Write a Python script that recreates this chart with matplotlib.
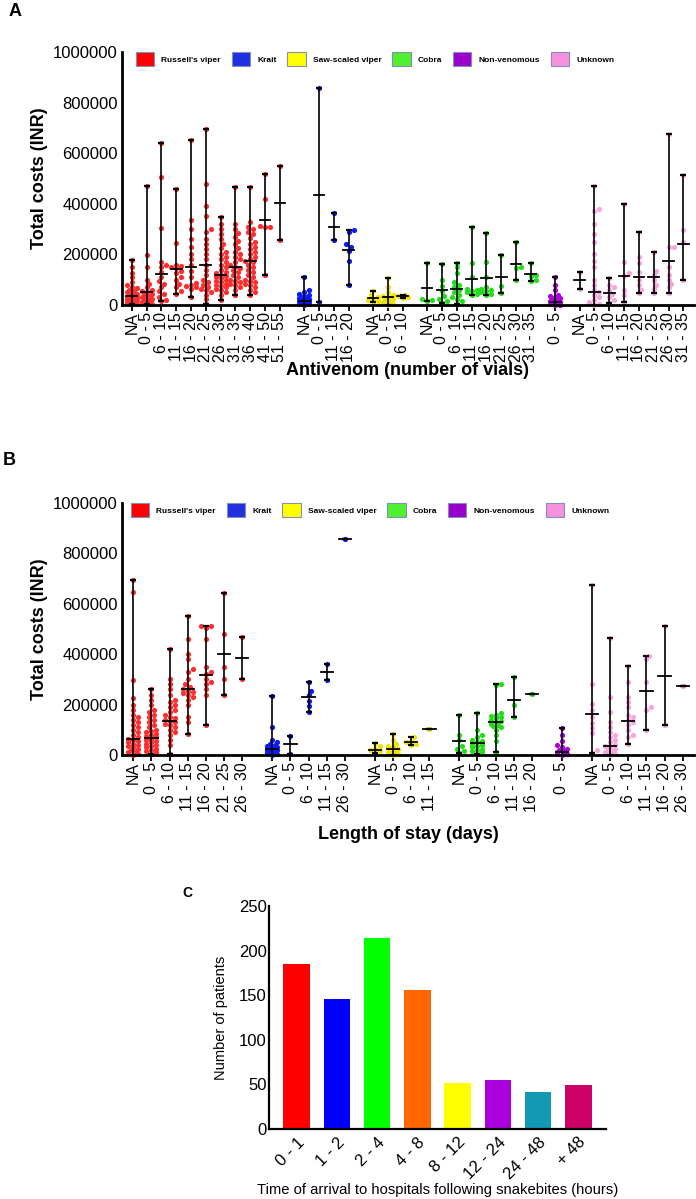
import numpy as np
import matplotlib.pyplot as plt
from matplotlib.patches import Patch

plt.rcParams["font.family"] = ["Liberation Sans", "DejaVu Sans"]

SPECIES = ["Russell's viper", "Krait", "Saw-scaled viper", "Cobra", "Non-venomous", "Unknown"]
LEGEND_COLORS = ["#ff0000", "#2030e0", "#ffff00", "#50f030", "#9900cc", "#f790dd"]
DOT_COLORS = ["#ff2e2e", "#0a1aff", "#f0e200", "#22dd1a", "#b000dd", "#f5a6da"]

# ---- Panel A: total costs (x1000 INR) by antivenom vials ----
a_russell_labels = ["NA", "0 - 5", "6 - 10", "11 - 15", "16 - 20", "21 - 25", "26 - 30",
                    "31 - 35", "36 - 40", "41 - 50", "51 - 55"]
a_russell_points = [
    [178, 150, 128, 110, 92, 80, 72, 66, 60, 55, 50, 46, 42, 38, 35, 32, 30, 27, 25, 22, 20, 18, 15, 12, 10, 8, 5, 3],
    [470, 198, 150, 100, 85, 70, 60, 55, 50, 45, 40, 35, 30, 26, 22, 18, 14, 10, 6, 3],
    [641, 507, 305, 170, 160, 150, 130, 110, 95, 85, 70, 55, 45, 32, 20, 17],
    [460, 244, 160, 155, 150, 145, 135, 125, 110, 100, 85, 70, 55, 44],
    [652, 338, 300, 262, 228, 200, 180, 160, 135, 110, 88, 80, 75, 70, 62, 30],
    [695, 480, 390, 350, 300, 290, 262, 240, 220, 200, 180, 160, 140, 120, 100, 90, 80, 72, 65, 58, 50, 40, 22, 5],
    [349, 320, 300, 280, 260, 240, 225, 210, 200, 190, 180, 170, 160, 150, 140, 130, 125, 120, 115, 110,
     105, 100, 95, 90, 85, 80, 75, 70, 65, 60, 50, 40, 20],
    [465, 320, 300, 285, 270, 255, 240, 225, 210, 200, 190, 180, 170, 160, 150, 145, 140, 130, 120, 110,
     100, 95, 90, 85, 80, 70, 60, 38],
    [465, 330, 310, 300, 290, 280, 265, 250, 240, 230, 220, 210, 200, 190, 180, 175, 170, 160, 150, 140,
     130, 120, 110, 100, 95, 90, 85, 80, 70, 60, 50, 40],
    [517, 419, 313, 310, 308, 119],
    [551, 257],
]
a_russell_medians = [36, 53, 122, 141, 152, 158, 117, 152, 174, 336, 404]

a_krait_labels = ["NA", "0 - 5", "11 - 15", "16 - 20"]
a_krait_points = [
    [112, 60, 50, 45, 40, 35, 32, 30, 28, 25, 22, 20, 18, 16, 14, 12, 10, 8, 6, 4, 2],
    [857, 10],
    [362, 259],
    [296, 290, 240, 230, 215, 175, 78],
]
a_krait_medians = [17, 434, 310, 217]

a_saw_labels = ["NA", "0 - 5", "6 - 10"]
a_saw_points = [
    [55, 40, 30, 25, 20, 15, 10],
    [105, 70, 50, 40, 35, 30, 25, 20, 15, 10, 5, 1],
    [40, 35, 30, 27],
]
a_saw_medians = [26, 33, 34]

a_cobra_labels = ["NA", "0 - 5", "6 - 10", "11 - 15", "16 - 20", "21 - 25", "26 - 30", "31 - 35"]
a_cobra_points = [
    [165, 25, 20, 17],
    [161, 100, 75, 55, 35, 25, 15, 9],
    [167, 150, 125, 90, 80, 70, 60, 50, 40, 30, 25, 15, 5],
    [310, 165, 110, 65, 60, 55, 50, 45, 38],
    [286, 170, 110, 70, 65, 60, 55, 50, 45, 40],
    [199, 75, 49],
    [249, 150, 148, 99],
    [165, 120, 115, 100, 96],
]
a_cobra_medians = [68, 59, 64, 101, 105, 109, 162, 121]

a_nonven_labels = ["0 - 5"]
a_nonven_points = [[109, 80, 60, 40, 35, 30, 26, 22, 18, 15, 12, 10, 8, 6, 4, 2, 1]]
a_nonven_medians = [13]

a_unknown_labels = ["NA", "0 - 5", "6 - 10", "11 - 15", "16 - 20", "21 - 25", "26 - 30", "31 - 35"]
a_unknown_points = [
    [132, 63],
    [470, 380, 370, 320, 280, 250, 200, 175, 150, 100, 80, 60, 50, 40, 30, 20, 10, 5, 1],
    [108, 80, 70, 60, 45, 30, 20, 9],
    [398, 170, 125, 115, 60, 40, 13],
    [289, 190, 165, 130, 100, 80, 60, 46],
    [211, 135, 120, 100, 80, 65, 46],
    [675, 230, 228, 150, 120, 100, 85, 70, 46],
    [513, 295, 250, 99],
]
a_unknown_medians = [99, 53, 46, 116, 111, 111, 175, 241]

# ---- Panel B: total costs (x1000 INR) by length of stay ----
b_russell_labels = ["NA", "0 - 5", "6 - 10", "11 - 15", "16 - 20", "21 - 25", "26 - 30"]
b_russell_points = [
    [695, 648, 298, 225, 200, 180, 160, 150, 140, 130, 120, 110, 100, 90, 80, 70, 65, 60, 55, 50,
     45, 40, 35, 30, 25, 20, 15, 10, 5, 2],
    [260, 240, 220, 200, 180, 170, 160, 150, 140, 130, 120, 110, 100, 95, 90, 85, 80, 75, 70, 65,
     60, 55, 50, 45, 40, 35, 30, 25, 20, 15, 10, 5],
    [419, 300, 280, 260, 240, 220, 210, 200, 190, 180, 170, 160, 150, 145, 140, 135, 130, 125, 120,
     110, 100, 90, 80, 60, 40, 3],
    [552, 460, 400, 380, 340, 330, 300, 280, 270, 260, 255, 250, 245, 240, 230, 220, 200, 150, 130, 82],
    [512, 510, 505, 460, 350, 330, 320, 300, 290, 280, 260, 240, 119],
    [643, 480, 350, 300, 238],
    [467, 303],
]
b_russell_medians = [64, 67, 135, 261, 317, 401, 385]

b_krait_labels = ["NA", "0 - 5", "6 - 10", "11 - 15", "26 - 30"]
b_krait_points = [
    [235, 110, 60, 50, 45, 40, 35, 30, 28, 25, 22, 20, 18, 15, 12, 10, 8, 5, 2],
    [77, 3],
    [288, 255, 240, 215, 195, 172],
    [361, 296],
    [857],
]
b_krait_medians = [24, 42, 230, 328, 857]

b_saw_labels = ["NA", "0 - 5", "6 - 10", "11 - 15"]
b_saw_points = [
    [49, 35, 25, 20, 15, 7],
    [82, 60, 45, 35, 30, 25, 20, 15, 10, 5, 1],
    [71, 55, 50, 45, 40],
    [102],
]
b_saw_medians = [20, 25, 50, 102]

b_cobra_labels = ["NA", "0 - 5", "6 - 10", "11 - 15", "16 - 20"]
b_cobra_points = [
    [160, 80, 60, 35, 25, 15, 9],
    [168, 100, 80, 70, 60, 55, 50, 45, 40, 35, 30, 25, 20, 15, 10, 4],
    [280, 278, 165, 160, 155, 150, 145, 140, 135, 130, 125, 120, 115, 110, 100, 80, 55, 13],
    [308, 200, 152],
    [242],
]
b_cobra_medians = [54, 49, 130, 218, 242]

b_nonven_labels = ["0 - 5"]
b_nonven_points = [[106, 80, 55, 40, 30, 25, 20, 15, 10, 5, 1]]
b_nonven_medians = [13]

b_unknown_labels = ["NA", "0 - 5", "6 - 10", "11 - 15", "16 - 20", "26 - 30"]
b_unknown_points = [
    [675, 280, 202, 178, 152, 126, 106, 86, 20, 7],
    [466, 230, 170, 130, 110, 90, 80, 70, 60, 50, 40, 35, 30, 25, 20, 15, 10, 5, 1],
    [355, 290, 230, 210, 190, 160, 150, 140, 130, 120, 100, 80, 70, 42],
    [394, 380, 290, 190, 180, 99],
    [513, 118],
    [275],
]
b_unknown_medians = [163, 36, 136, 255, 315, 275]

# ---- Panel C: arrival time ----
arrival_labels = ["0 - 1", "1 - 2", "2 - 4", "4 - 8", "8 - 12", "12 - 24", "24 - 48", "+ 48"]
arrival_counts = [185, 146, 214, 156, 52, 55, 42, 49]
arrival_colors = ["#ff0000", "#0000ff", "#00ff00", "#ff6600", "#ffff00", "#aa00dd", "#1199b3", "#cc0066"]

GAP = 0.65  # extra space between species groups


def swarm_offsets(ax, x0, values, diam=5.0, max_half=7.0):
    """Beeswarm-style horizontal offsets (in data units) for one column of dots."""
    trans = ax.transData
    px_y = trans.transform(np.column_stack([np.full(len(values), x0), values]))[:, 1]
    px_unit = trans.transform((1, 0))[0] - trans.transform((0, 0))[0]
    cands = [0.0]
    k = 1
    while k * diam * 0.5 <= max_half:
        cands += [k * diam * 0.5, -k * diam * 0.5]
        k += 1
    placed = []
    offsets = np.zeros(len(values))
    for i in np.argsort(values):
        y = px_y[i]
        best, best_d = 0.0, -1.0
        for c in cands:
            d = min((np.hypot(c - px, y - py) for px, py in placed), default=1e9)
            if d >= diam * 0.85:
                best = c
                break
            if d > best_d:
                best, best_d = c, d
        placed.append((best, y))
        offsets[i] = best / px_unit
    return offsets


def dot_panel(ax, groups, half_med, max_half):
    ticks, labels = [], []
    pos = 0.0
    for gi, (cat_labels, points, medians) in enumerate(groups):
        for lab, pts, med in zip(cat_labels, points, medians):
            vals = np.array(pts, dtype=float) * 1000
            med = med * 1000
            offs = swarm_offsets(ax, pos, vals, max_half=max_half)
            ax.scatter(pos + offs, vals, s=14, color=DOT_COLORS[gi], linewidths=0,
                       zorder=2, clip_on=False)
            ax.errorbar(pos, med, yerr=[[med - vals.min()], [vals.max() - med]], fmt="none",
                        ecolor="black", elinewidth=1.2, capsize=2.5, capthick=1.6, zorder=3)
            ax.plot([pos - half_med, pos + half_med], [med, med], color="black", lw=1.3, zorder=3)
            ticks.append(pos)
            labels.append(lab)
            pos += 1
        pos += GAP
    ax.set_xticks(ticks)
    ax.set_xticklabels(labels, rotation=90, fontsize=11.5)
    ax.set_ylim(0, 1000000)
    ax.set_yticks(range(0, 1000001, 200000))
    ax.set_yticklabels([str(v) for v in range(0, 1000001, 200000)], fontsize=12)
    ax.tick_params(axis="y", length=0, pad=3)
    ax.tick_params(axis="x", length=4, width=1.3, pad=1)
    for s in ["top", "right"]:
        ax.spines[s].set_visible(False)
    for s in ["left", "bottom"]:
        ax.spines[s].set_linewidth(2)
    ax.set_ylabel("Total costs (INR)", fontsize=13, fontweight="bold", labelpad=4)


def add_legend(ax, x_anchor):
    handles = [Patch(facecolor=c, edgecolor="#8090b8", linewidth=0.8) for c in LEGEND_COLORS]
    ax.legend(handles, SPECIES, ncol=6, loc="upper left", bbox_to_anchor=(x_anchor, 1.0),
              frameon=False, prop={"size": 6, "weight": "bold"}, handlelength=2.2,
              handleheight=2.2, handletextpad=0.85, columnspacing=1.3, borderpad=0,
              borderaxespad=0)


fig = plt.figure(figsize=(6.96, 11.99), dpi=100)

# Panel A
ax_a = fig.add_axes([0.1753, 0.7456, 0.8218, 0.2110])
ax_a.set_xlim(-0.66, 37.97)
ax_a.set_ylim(0, 1000000)
dot_panel(ax_a, [
    (a_russell_labels, a_russell_points, a_russell_medians),
    (a_krait_labels, a_krait_points, a_krait_medians),
    (a_saw_labels, a_saw_points, a_saw_medians),
    (a_cobra_labels, a_cobra_points, a_cobra_medians),
    (a_nonven_labels, a_nonven_points, a_nonven_medians),
    (a_unknown_labels, a_unknown_points, a_unknown_medians),
], half_med=0.36, max_half=6.5)
ax_a.set_xlabel("Antivenom (number of vials)", fontsize=13, fontweight="bold", labelpad=0)
add_legend(ax_a, 0.0245)

# Panel B
ax_b = fig.add_axes([0.1753, 0.3703, 0.8218, 0.2102])
ax_b.set_xlim(-0.62, 30.87)
ax_b.set_ylim(0, 1000000)
dot_panel(ax_b, [
    (b_russell_labels, b_russell_points, b_russell_medians),
    (b_krait_labels, b_krait_points, b_krait_medians),
    (b_saw_labels, b_saw_points, b_saw_medians),
    (b_cobra_labels, b_cobra_points, b_cobra_medians),
    (b_nonven_labels, b_nonven_points, b_nonven_medians),
    (b_unknown_labels, b_unknown_points, b_unknown_medians),
], half_med=0.34, max_half=7)
ax_b.set_xlabel("Length of stay (days)", fontsize=13, fontweight="bold", labelpad=10)
add_legend(ax_b, 0.0157)

# Panel C
ax_c = fig.add_axes([0.3869, 0.0584, 0.4838, 0.1860])
xc = np.arange(len(arrival_counts))
ax_c.bar(xc, arrival_counts, width=0.66, color=arrival_colors)
ax_c.set_xlim(-0.68, 7.69)
ax_c.set_ylim(0, 250)
ax_c.set_yticks(range(0, 251, 50))
ax_c.set_xticks(xc)
ax_c.set_xticklabels(arrival_labels, rotation=45, ha="right", rotation_mode="anchor", fontsize=12)
ax_c.tick_params(axis="y", length=0, pad=2, labelsize=12)
ax_c.tick_params(axis="x", length=0, pad=4)
for s in ["top", "right"]:
    ax_c.spines[s].set_visible(False)
for s in ["left", "bottom"]:
    ax_c.spines[s].set_linewidth(1.6)
ax_c.set_ylabel("Number of patients", fontsize=10.5, labelpad=8)
ax_c.set_xlabel("Time of arrival to hospitals following snakebites (hours)", fontsize=10.6, labelpad=1)

fig.text(15 / 696, 1 - 12 / 1199, "A", fontsize=13, fontweight="bold", ha="center", va="center")
fig.text(9 / 696, 1 - 461 / 1199, "B", fontsize=13, fontweight="bold", ha="center", va="center")
fig.text(187 / 696, 1 - 893 / 1199, "C", fontsize=10, fontweight="bold", ha="center", va="center")

fig.savefig("out.png", dpi=100)
